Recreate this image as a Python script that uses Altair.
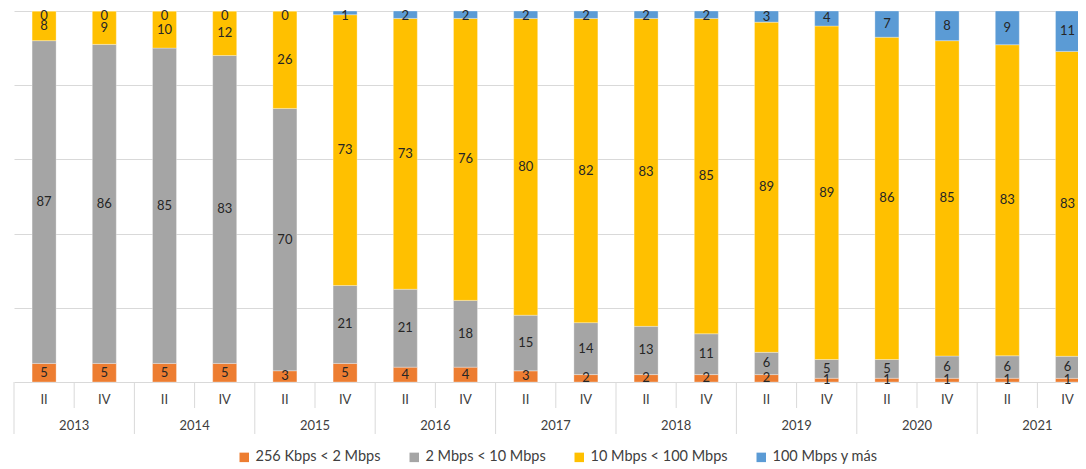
import altair as alt
import pandas as pd

years = ["2013", "2014", "2015", "2016", "2017", "2018", "2019", "2020", "2021"]
quarters = ["II", "IV"]
series = ["256 Kbps < 2 Mbps", "2 Mbps < 10 Mbps", "10 Mbps < 100 Mbps", "100 Mbps y más"]
colors = ["#ED7D31", "#A5A5A5", "#FFC000", "#5B9BD5"]

s_low = [5, 5, 5, 5, 3, 5, 4, 4, 3, 2, 2, 2, 2, 1, 1, 1, 1, 1]
s_mid = [87, 86, 85, 83, 70, 21, 21, 18, 15, 14, 13, 11, 6, 5, 5, 6, 6, 6]
s_high = [8, 9, 10, 12, 26, 73, 73, 76, 80, 82, 83, 85, 89, 89, 86, 85, 83, 83]
s_top = [0, 0, 0, 0, 0, 1, 2, 2, 2, 2, 2, 2, 3, 4, 7, 8, 9, 11]

values = [s_low, s_mid, s_high, s_top]

rows = []
for si, (name, vals) in enumerate(zip(series, values)):
    for i, v in enumerate(vals):
        rows.append({"idx": i, "serie": name, "order": si, "valor": v})
df = pd.DataFrame(rows)

cats = pd.DataFrame({
    "idx": list(range(len(years) * 2)),
    "quarter": [q for y in years for q in quarters],
})
yrs = pd.DataFrame({"yi": list(range(len(years))), "year": years})
bounds = pd.DataFrame({"b": list(range(len(years) * 2 + 1))})

STEP = 60.2
W = 1064
H = 371
FONT = "Lato"

xscale = alt.Scale(domain=[0, W / STEP], nice=False, zero=False, padding=0)
yscale = alt.Scale(domain=[0, 1], nice=False, padding=0)

base = alt.Chart(df).transform_stack(
    stack="valor", groupby=["idx"], as_=["y0", "y1"], offset="normalize",
    sort=[alt.SortField("order", "ascending")]
).transform_calculate(
    xc="datum.idx + 0.5", ymid="min((datum.y0 + datum.y1) / 2, 0.986)"
)

bars = base.mark_bar(size=24, stroke="white", strokeWidth=0.6, strokeOpacity=0.5).encode(
    x=alt.X("xc:Q", scale=xscale, axis=None),
    y=alt.Y("y0:Q", scale=yscale,
            axis=alt.Axis(values=[0, 0.2, 0.4, 0.6, 0.8, 1.0], grid=True, labels=False,
                          ticks=False, domain=False, title=None, gridColor="#D9D9D9",
                          gridWidth=1)),
    y2="y1:Q",
    color=alt.Color("serie:N", scale=alt.Scale(domain=series, range=colors),
                    legend=alt.Legend(orient="none", legendX=223, legendY=439,
                                      direction="horizontal", title=None,
                                      symbolType="square", symbolSize=90,
                                      symbolStrokeWidth=0, labelFontSize=14.5,
                                      labelFont=FONT, labelColor="#404040",
                                      columnPadding=26, labelOffset=4)),
    order=alt.Order("order:Q"),
)

labels = base.mark_text(font=FONT, fontSize=13, color="#262626", baseline="middle").encode(
    x=alt.X("xc:Q", scale=xscale),
    y=alt.Y("ymid:Q", scale=yscale),
    text=alt.Text("valor:Q"),
)

short_rules = alt.Chart(bounds).transform_filter("datum.b % 2 == 1").transform_calculate(
    bx="datum.b"
).mark_rule(color="#D9D9D9", strokeWidth=1).encode(
    x=alt.X("bx:Q", scale=xscale), y=alt.value(H), y2=alt.value(H + 26)
)
long_rules = alt.Chart(bounds).transform_filter("datum.b % 2 == 0").transform_calculate(
    bx="datum.b"
).mark_rule(color="#D9D9D9", strokeWidth=1).encode(
    x=alt.X("bx:Q", scale=xscale), y=alt.value(H), y2=alt.value(H + 52)
)

qlabels = alt.Chart(cats).transform_calculate(qx="datum.idx + 0.5").mark_text(
    font=FONT, fontSize=13, color="#404040", baseline="middle"
).encode(x=alt.X("qx:Q", scale=xscale), y=alt.value(H + 18), text="quarter:N")

ylabels = alt.Chart(yrs).transform_calculate(yx="datum.yi * 2 + 1").mark_text(
    font=FONT, fontSize=13, color="#404040", baseline="middle"
).encode(x=alt.X("yx:Q", scale=xscale), y=alt.value(H + 44), text="year:N")

chart = alt.layer(bars, labels, short_rules, long_rules, qlabels, ylabels).properties(
    width=W, height=H,
    padding={"left": 6, "top": 3, "right": 0, "bottom": 86},
    autosize=alt.AutoSizeParams(type="none"),
).configure_view(stroke=None)

chart.save("out.html", embed_options={"renderer": "svg", "actions": False})
